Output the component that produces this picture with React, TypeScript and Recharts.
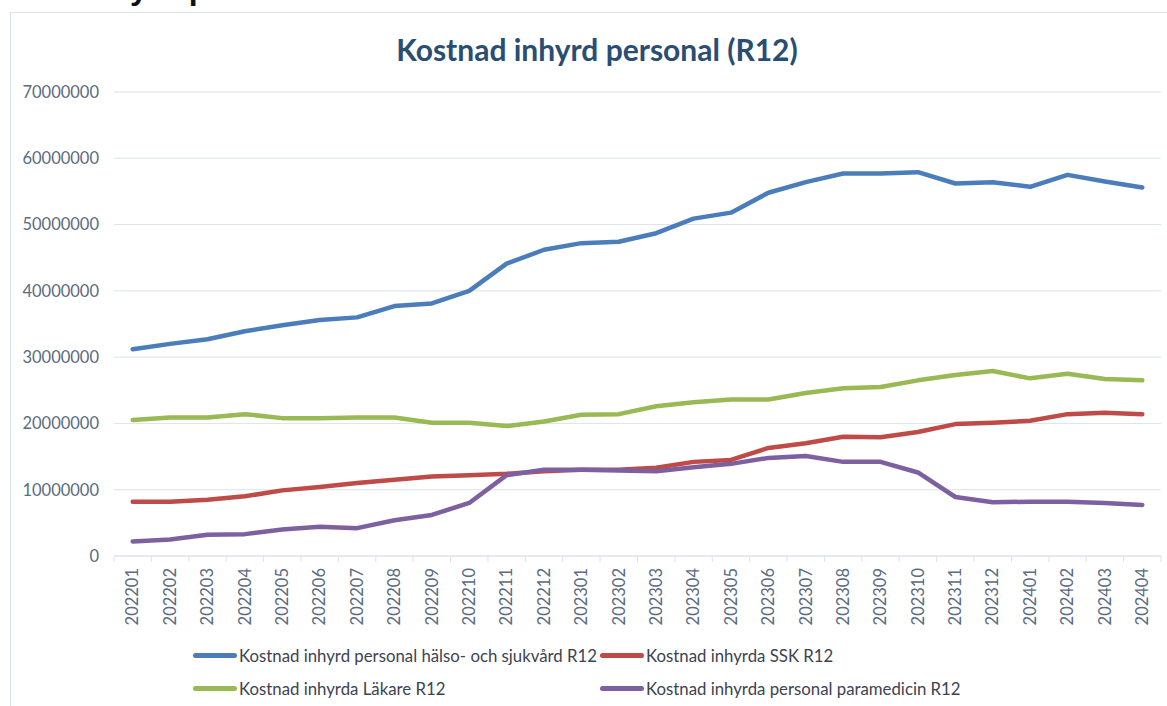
import React from 'react';
import { LineChart, Line, XAxis, YAxis, CartesianGrid } from 'recharts';

// period labels (YYYYMM)
const months = [
  '202201', '202202', '202203', '202204', '202205', '202206', '202207',
  '202208', '202209', '202210', '202211', '202212', '202301', '202302',
  '202303', '202304', '202305', '202306', '202307', '202308', '202309',
  '202310', '202311', '202312', '202401', '202402', '202403', '202404'
];

// rolling 12 month costs, kr
const totalCost = [
  31200000, 32000000, 32700000, 33900000, 34800000, 35600000, 36000000,
  37700000, 38100000, 40000000, 44100000, 46200000, 47200000, 47400000,
  48700000, 50900000, 51800000, 54800000, 56400000, 57700000, 57700000,
  57900000, 56200000, 56400000, 55700000, 57500000, 56500000, 55600000
];
const sskCost = [
  8200000, 8200000, 8500000, 9000000, 9900000, 10400000, 11000000,
  11500000, 12000000, 12200000, 12400000, 12800000, 13000000, 13000000,
  13300000, 14200000, 14500000, 16300000, 17000000, 18000000, 17900000,
  18700000, 19900000, 20100000, 20400000, 21400000, 21600000, 21400000
];
const lakareCost = [
  20500000, 20900000, 20900000, 21400000, 20800000, 20800000, 20900000,
  20900000, 20100000, 20100000, 19600000, 20300000, 21300000, 21400000,
  22600000, 23200000, 23600000, 23600000, 24600000, 25300000, 25500000,
  26500000, 27300000, 27900000, 26800000, 27500000, 26700000, 26500000
];
const paramedCost = [
  2200000, 2500000, 3200000, 3300000, 4000000, 4400000, 4200000,
  5400000, 6200000, 8000000, 12200000, 13000000, 13000000, 12900000,
  12800000, 13400000, 13900000, 14800000, 15100000, 14200000, 14200000,
  12600000, 8900000, 8100000, 8200000, 8200000, 8000000, 7700000
];

const yTicks = [0, 10000000, 20000000, 30000000, 40000000, 50000000, 60000000, 70000000];

const series = [
  { key: 'total', name: 'Kostnad inhyrd personal hälso- och sjukvård R12', color: '#4a7dba' },
  { key: 'ssk', name: 'Kostnad inhyrda SSK R12', color: '#be4b48' },
  { key: 'lakare', name: 'Kostnad inhyrda Läkare R12', color: '#98b954' },
  { key: 'paramed', name: 'Kostnad inhyrda personal paramedicin R12', color: '#7d60a0' }
];

const data = months.map((m, i) => ({
  month: m,
  total: totalCost[i],
  ssk: sskCost[i],
  lakare: lakareCost[i],
  paramed: paramedCost[i]
}));

const CHART_W = 1167;
const CHART_H = 706;
const PLOT_LEFT = 114;
const PLOT_RIGHT = 1161;
const BAND = (PLOT_RIGHT - PLOT_LEFT) / months.length;
const FONT = 'Lato, "Open Sans", sans-serif';
const TICK_COLOR = '#5b6b80';
const GRID_COLOR = '#dbe3ec';

// excel style: rotated label, tick marks between categories
const MonthTick = (props: any) => {
  const { x, y, payload, index } = props;
  const left = x - BAND / 2;
  const right = x + BAND / 2;
  return (
    <g>
      <line x1={left} y1={y} x2={left} y2={y + 6} stroke={GRID_COLOR} />
      {index === months.length - 1 && (
        <line x1={right} y1={y} x2={right} y2={y + 6} stroke={GRID_COLOR} />
      )}
      <text
        x={x}
        y={y + 12}
        dy="0.35em"
        transform={`rotate(-90, ${x}, ${y + 12})`}
        textAnchor="end"
        fill={TICK_COLOR}
        fontSize={16.5}
        fontFamily={FONT}
      >
        {payload.value}
      </text>
    </g>
  );
};

const legendRows = [
  [series[0], series[1]],
  [series[2], series[3]]
];

export default function App() {
  return (
    <div style={{ position: 'relative', width: CHART_W, height: CHART_H, background: '#fff' }}>
      <style>{'body{margin:0;overflow:hidden}'}</style>

      {/* slide heading, mostly outside the top edge */}
      <div
        style={{
          position: 'absolute',
          left: 82,
          top: -28,
          fontFamily: '"Liberation Sans", sans-serif',
          fontWeight: 700,
          fontSize: 32,
          lineHeight: 1,
          color: '#111'
        }}
      >
        Inhyrd personal
      </div>

      <div
        style={{
          position: 'absolute',
          left: 10,
          top: 12,
          width: 1200,
          height: 720,
          border: '1px solid #d9e2ec',
          background: '#fff'
        }}
      />

      <div
        style={{
          position: 'absolute',
          left: 0,
          top: 31,
          width: 1194,
          textAlign: 'center',
          fontFamily: FONT,
          fontWeight: 700,
          fontSize: 30,
          lineHeight: '36px',
          color: '#2a4d74'
        }}
      >
        Kostnad inhyrd personal (R12)
      </div>

      <div style={{ position: 'absolute', left: 0, top: 0 }}>
        <LineChart
          width={CHART_W}
          height={CHART_H}
          data={data}
          margin={{ top: 92, right: CHART_W - PLOT_RIGHT, bottom: 70, left: 0 }}
        >
          <CartesianGrid vertical={false} stroke={GRID_COLOR} />
          <XAxis
            dataKey="month"
            interval={0}
            padding={{ left: BAND / 2, right: BAND / 2 }}
            axisLine={{ stroke: GRID_COLOR }}
            tickLine={false}
            tickSize={0}
            tickMargin={0}
            height={80}
            tick={<MonthTick />}
          />
          <YAxis
            width={PLOT_LEFT}
            domain={[0, 70000000]}
            ticks={yTicks}
            interval={0}
            axisLine={false}
            tickLine={false}
            tickSize={6}
            tickMargin={9}
            tick={{ fill: TICK_COLOR, fontSize: 16.5, fontFamily: FONT }}
          />
          {series.map(s => (
            <Line
              key={s.key}
              type="linear"
              dataKey={s.key}
              name={s.name}
              stroke={s.color}
              strokeWidth={4.5}
              strokeLinejoin="round"
              strokeLinecap="round"
              dot={false}
              activeDot={false}
              isAnimationActive={false}
            />
          ))}
        </LineChart>
      </div>

      {legendRows.map((row, r) => (
        <div key={r}>
          {row.map((s, c) => (
            <div
              key={s.key}
              style={{
                position: 'absolute',
                left: c === 0 ? 193 : 600,
                top: 644 + r * 33,
                height: 22,
                display: 'flex',
                alignItems: 'center',
                fontFamily: FONT,
                fontSize: 16.8,
                color: '#3d4350',
                whiteSpace: 'nowrap'
              }}
            >
              <span
                style={{
                  display: 'inline-block',
                  width: 44,
                  height: 5,
                  borderRadius: 3,
                  background: s.color,
                  marginRight: 2
                }}
              />
              {s.name}
            </div>
          ))}
        </div>
      ))}
    </div>
  );
}
